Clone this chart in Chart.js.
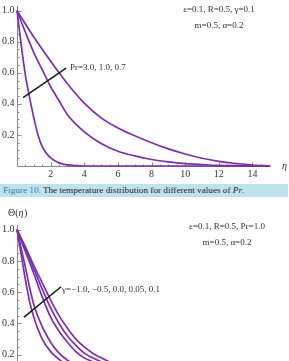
<!DOCTYPE html>
<html lang="en">
<head>
<meta charset="UTF-8">
<title>Temperature distribution</title>
<script src="https://cdn.jsdelivr.net/npm/chart.js"></script>
<style>
  html, body { margin: 0; padding: 0; background: #fff; }
  body { width: 289px; height: 361px; overflow: hidden; position: relative; }
  #topChart { position: absolute; left: 0; top: 0; }
  #bottomChart { position: absolute; left: 0; top: 200px; }
  .caption {
    position: absolute; left: 0; top: 184px; width: 288px; height: 13px;
    background: #bfe3ed; font: 9.2px "Liberation Serif", serif; color: #222;
    line-height: 13px; padding-left: 3px; box-sizing: border-box; white-space: nowrap;
  }
  .caption b { color: #2f7fb5; font-weight: normal; }
</style>
</head>
<body>
<canvas id="topChart" width="289" height="185"></canvas>
<div class="caption"><b>Figure 10.</b> The temperature distribution for different values of <i>Pr</i>.</div>
<canvas id="bottomChart" width="289" height="215"></canvas>

<script>
  // --- top chart: Pr = 3.0, 1.0, 0.7
  const etaPr30 = [0, 0.25, 0.5, 0.75, 1, 1.25, 1.5, 1.75, 2, 2.5, 3, 3.5, 4, 6, 8, 10, 12, 15];
  const thetaPr30 = [1, 0.78, 0.585, 0.44, 0.31, 0.2, 0.125, 0.082, 0.052, 0.02, 0.007, 0.002, 0, 0, 0, 0, 0, 0];
  const etaPr10 = [0, 0.5, 1, 1.5, 2, 2.5, 3, 4, 5, 6, 7, 8, 9, 10, 11, 12, 13, 14, 15];
  const thetaPr10 = [1, 0.86, 0.73, 0.62, 0.51, 0.42, 0.33, 0.22, 0.145, 0.095, 0.065, 0.042, 0.026, 0.015, 0.009, 0.004, 0.002, 0.001, 0];
  const etaPr07 = [0, 1, 2, 3, 4, 5, 6, 7, 8, 9, 10, 11, 12, 13, 14, 15];
  const thetaPr07 = [1, 0.83, 0.675, 0.53, 0.405, 0.31, 0.245, 0.195, 0.15, 0.11, 0.077, 0.05, 0.03, 0.016, 0.006, 0];

  // --- bottom chart: gamma = -1.0, -0.5, 0.0, 0.05, 0.1
  const etaGam = [0, 0.25, 0.5, 0.75, 1, 1.5, 2, 2.5, 3, 3.5, 4, 4.5, 5, 6, 8, 10, 12, 15];
  const thetaGamM10 = [1, 0.84, 0.68, 0.54, 0.44, 0.30, 0.22, 0.17, 0.13, 0.10, 0.08, 0.063, 0.05, 0.03, 0.012, 0.004, 0.001, 0];
  const thetaGamM05 = [1, 0.88, 0.76, 0.63, 0.52, 0.38, 0.28, 0.21, 0.165, 0.13, 0.10, 0.08, 0.06, 0.04, 0.015, 0.005, 0.002, 0];
  const thetaGam000 = [1, 0.93, 0.86, 0.79, 0.72, 0.57, 0.44, 0.35, 0.28, 0.22, 0.18, 0.155, 0.13, 0.09, 0.045, 0.02, 0.008, 0];
  const thetaGam005 = [1, 0.94, 0.88, 0.815, 0.75, 0.62, 0.50, 0.40, 0.32, 0.26, 0.21, 0.18, 0.155, 0.11, 0.055, 0.025, 0.01, 0];
  const thetaGam010 = [1, 0.945, 0.89, 0.83, 0.77, 0.66, 0.55, 0.45, 0.37, 0.30, 0.25, 0.21, 0.18, 0.13, 0.07, 0.03, 0.012, 0];

  const xTicks = [2, 4, 6, 8, 10, 12, 14];
  const yTicks = [0.2, 0.4, 0.6, 0.8, 1.0];

  const purple = '#7b2fb0';
  const serif = '"Liberation Serif", "DejaVu Serif", serif';

  function pts(xs, ys) {
    return xs.map((x, i) => ({ x: x, y: ys[i] }));
  }

  function curve(xs, ys) {
    return {
      data: pts(xs, ys),
      borderColor: purple,
      borderWidth: 1.7,
      pointRadius: 0,
      fill: false,
      cubicInterpolationMode: 'monotone',
      clip: false
    };
  }

  // Mathematica-like axes through the origin, drawn from the chart scales
  const mmaAxes = {
    id: 'mmaAxes',
    beforeDatasetsDraw(chart) {
      const ctx = chart.ctx, xs = chart.scales.x, ys = chart.scales.y;
      const x0 = Math.round(xs.getPixelForValue(0)) + 0.5;
      const y0 = Math.round(ys.getPixelForValue(0)) + 0.5;
      ctx.save();
      ctx.strokeStyle = '#8a8a8a';
      ctx.lineWidth = 1;
      ctx.beginPath();
      ctx.moveTo(x0, y0);
      ctx.lineTo(xs.right, y0);
      ctx.moveTo(x0, y0);
      ctx.lineTo(x0, ys.top);
      // x minor / major ticks
      for (let v = 0.5; v <= xs.max; v += 0.5) {
        const p = Math.round(xs.getPixelForValue(v)) + 0.5;
        const len = (v % 2 === 0) ? 4 : 2;
        ctx.moveTo(p, y0);
        ctx.lineTo(p, y0 - len);
      }
      // y minor / major ticks
      for (let k = 1; k * 0.05 <= ys.max + 1e-9; k++) {
        const p = Math.round(ys.getPixelForValue(k * 0.05)) + 0.5;
        const len = (k % 4 === 0) ? 4 : 2;
        ctx.moveTo(x0, p);
        ctx.lineTo(x0 + len, p);
      }
      ctx.stroke();

      ctx.fillStyle = '#333';
      ctx.font = '10px ' + serif;
      ctx.textAlign = 'center';
      ctx.textBaseline = 'top';
      xTicks.forEach(v => ctx.fillText(String(v), xs.getPixelForValue(v), y0 + 3));
      ctx.textAlign = 'right';
      ctx.textBaseline = 'middle';
      yTicks.forEach(v => ctx.fillText(v.toFixed(1), x0 - 3, ys.getPixelForValue(v)));
      ctx.textAlign = 'left';
      ctx.font = 'italic 10px ' + serif;
      ctx.fillText('\u03B7', xs.right + 11, y0);
      ctx.restore();
    },
    afterDatasetsDraw(chart, args, o) {
      const ctx = chart.ctx, xs = chart.scales.x, ys = chart.scales.y;
      ctx.save();
      // pointer line
      ctx.strokeStyle = '#1a1a1a';
      ctx.lineWidth = 1.6;
      ctx.beginPath();
      ctx.moveTo(xs.getPixelForValue(o.pointer[0]), ys.getPixelForValue(o.pointer[1]));
      ctx.lineTo(xs.getPixelForValue(o.pointer[2]), ys.getPixelForValue(o.pointer[3]));
      ctx.stroke();
      ctx.fillStyle = '#333';
      ctx.font = '9px ' + serif;
      ctx.textAlign = 'left';
      ctx.textBaseline = 'middle';
      ctx.fillText(o.label, xs.getPixelForValue(o.labelAt[0]), ys.getPixelForValue(o.labelAt[1]));
      ctx.textAlign = 'center';
      o.params.forEach((t, i) => ctx.fillText(t, o.paramsX, o.paramsY + i * 16));
      if (o.yTitle) {
        ctx.textAlign = 'left';
        ctx.font = '10px ' + serif;
        ctx.fillText('\u0398(', 8, 13);
        const w0 = ctx.measureText('\u0398(').width;
        ctx.font = 'italic 10px ' + serif;
        ctx.fillText('\u03B7', 8 + w0, 13);
        const w1 = ctx.measureText('\u03B7').width;
        ctx.font = '10px ' + serif;
        ctx.fillText(')', 8 + w0 + w1 + 0.5, 13);
      }
      ctx.restore();
    }
  };

  function makeChart(id, datasets, pad, notes) {
    return new Chart(document.getElementById(id), {
      type: 'line',
      data: { datasets: datasets },
      options: {
        responsive: false,
        animation: false,
        devicePixelRatio: 1,
        layout: { padding: pad },
        scales: {
          x: { type: 'linear', min: 0, max: 15.1, display: false },
          y: { min: 0, max: 1.03, display: false }
        },
        plugins: {
          legend: { display: false },
          tooltip: { enabled: false },
          mmaAxes: notes
        }
      },
      plugins: [mmaAxes]
    });
  }

  makeChart('topChart', [
    curve(etaPr30, thetaPr30),
    curve(etaPr10, thetaPr10),
    curve(etaPr07, thetaPr07)
  ], { left: 17, right: 18, top: 6, bottom: 19 }, {
    pointer: [0.36, 0.44, 2.92, 0.63],
    label: 'Pr=3.0, 1.0, 0.7',
    labelAt: [3.15, 0.63],
    params: ['\u03B5=0.1, R=0.5, \u03B3=0.1', 'm=0.5, \u03B1=0.2'],
    paramsX: 219, paramsY: 10,
    yTitle: false
  });

  makeChart('bottomChart', [
    curve(etaGam, thetaGamM10),
    curve(etaGam, thetaGamM05),
    curve(etaGam, thetaGam000),
    curve(etaGam, thetaGam005),
    curve(etaGam, thetaGam010)
  ], { left: 17, right: 18, top: 25, bottom: 29 }, {
    pointer: [0.42, 0.44, 2.62, 0.635],
    label: '\u03B3=\u22121.0, \u22120.5, 0.0, 0.05, 0.1',
    labelAt: [2.68, 0.615],
    params: ['\u03B5=0.1, R=0.5, Pr=1.0', 'm=0.5, \u03B1=0.2'],
    paramsX: 227, paramsY: 27,
    yTitle: true
  });
</script>
</body>
</html>
